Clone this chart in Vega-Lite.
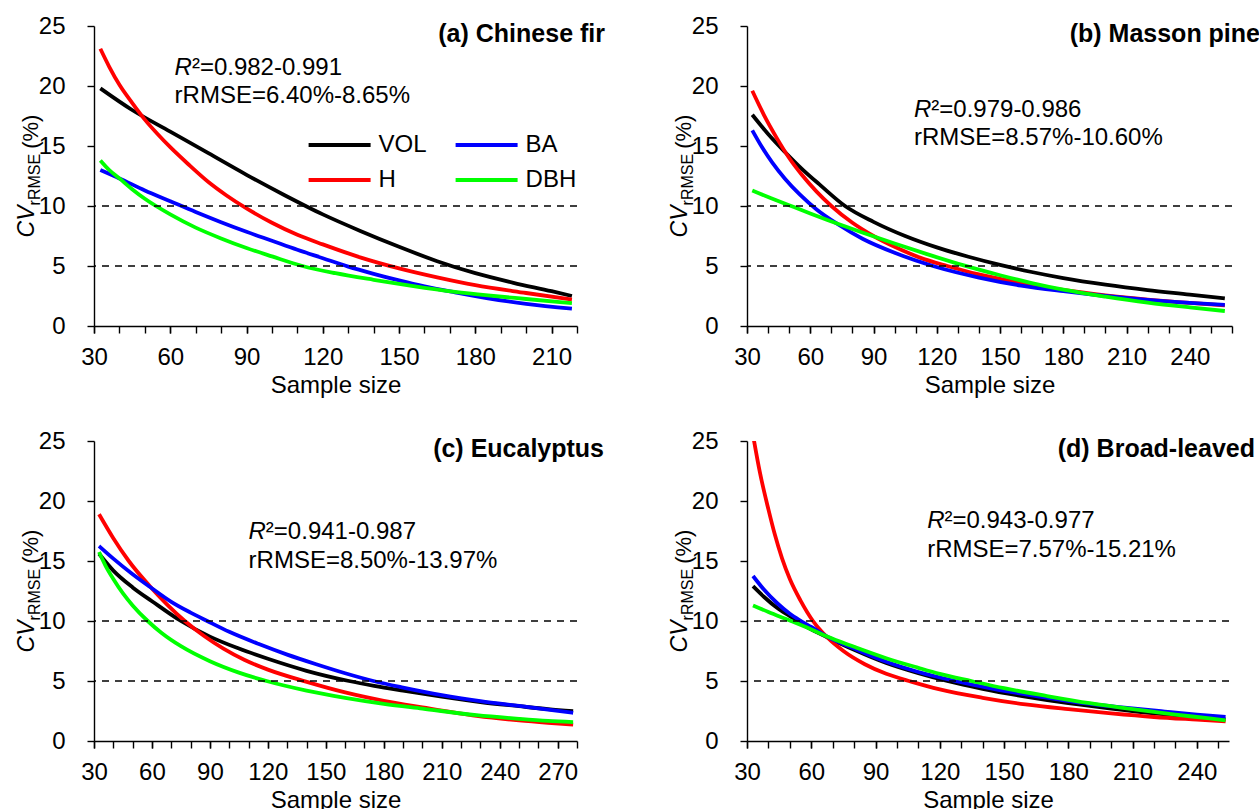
{
  "$schema": "https://vega.github.io/schema/vega-lite/v6.json",
  "background": "white",
  "padding": {"left": 16, "top": 14, "right": 0, "bottom": 0},
  "bounds": "flush",
  "columns": 2,
  "spacing": {"row": 115, "column": 170},
  "config": {
    "font": "Liberation Sans",
    "view": {"stroke": null},
    "axis": {"grid": false, "domainColor": "#000000", "tickColor": "#000000", "labelColor": "#000000", "titleColor": "#000000", "labelFontSize": 24, "titleFontSize": 24, "titleFontWeight": "normal", "domainWidth": 1.4, "tickWidth": 1.4, "tickSize": 7, "labelFlush": false, "labelOverlap": false, "labelBound": false},
    "axisX": {"labelPadding": 12, "titlePadding": 4},
    "axisY": {"labelPadding": 22},
    "text": {"color": "#000000"}
  },
  "resolve": {"scale": {"x": "independent", "y": "independent"}, "legend": {"color": "independent"}},
  "datasets": {
    "curves": [
      {"panel":"a","series":"VOL","n":32.5,"cv":19.8},{"panel":"a","series":"VOL","n":45,"cv":18.0},{"panel":"a","series":"VOL","n":60,"cv":16.2},{"panel":"a","series":"VOL","n":75,"cv":14.4},{"panel":"a","series":"VOL","n":90,"cv":12.6},{"panel":"a","series":"VOL","n":105,"cv":10.9},{"panel":"a","series":"VOL","n":120,"cv":9.3},{"panel":"a","series":"VOL","n":135,"cv":7.9},{"panel":"a","series":"VOL","n":150,"cv":6.6},{"panel":"a","series":"VOL","n":165,"cv":5.4},{"panel":"a","series":"VOL","n":180,"cv":4.4},{"panel":"a","series":"VOL","n":195,"cv":3.6},{"panel":"a","series":"VOL","n":210,"cv":2.9},{"panel":"a","series":"VOL","n":218,"cv":2.5},
      {"panel":"a","series":"H","n":32.5,"cv":23.1},{"panel":"a","series":"H","n":36,"cv":21.6},{"panel":"a","series":"H","n":40,"cv":20.1},{"panel":"a","series":"H","n":45,"cv":18.6},{"panel":"a","series":"H","n":50,"cv":17.2},{"panel":"a","series":"H","n":55,"cv":16.0},{"panel":"a","series":"H","n":60,"cv":14.9},{"panel":"a","series":"H","n":67,"cv":13.5},{"panel":"a","series":"H","n":75,"cv":12.0},{"panel":"a","series":"H","n":82,"cv":10.9},{"panel":"a","series":"H","n":90,"cv":9.8},{"panel":"a","series":"H","n":100,"cv":8.6},{"panel":"a","series":"H","n":110,"cv":7.6},{"panel":"a","series":"H","n":120,"cv":6.8},{"panel":"a","series":"H","n":135,"cv":5.7},{"panel":"a","series":"H","n":150,"cv":4.8},{"panel":"a","series":"H","n":165,"cv":4.05},{"panel":"a","series":"H","n":180,"cv":3.4},{"panel":"a","series":"H","n":200,"cv":2.75},{"panel":"a","series":"H","n":218,"cv":2.2},
      {"panel":"a","series":"BA","n":32.5,"cv":13.0},{"panel":"a","series":"BA","n":40,"cv":12.3},{"panel":"a","series":"BA","n":50,"cv":11.3},{"panel":"a","series":"BA","n":60,"cv":10.4},{"panel":"a","series":"BA","n":70,"cv":9.5},{"panel":"a","series":"BA","n":80,"cv":8.65},{"panel":"a","series":"BA","n":90,"cv":7.85},{"panel":"a","series":"BA","n":100,"cv":7.1},{"panel":"a","series":"BA","n":110,"cv":6.35},{"panel":"a","series":"BA","n":120,"cv":5.65},{"panel":"a","series":"BA","n":130,"cv":4.95},{"panel":"a","series":"BA","n":140,"cv":4.35},{"panel":"a","series":"BA","n":150,"cv":3.8},{"panel":"a","series":"BA","n":160,"cv":3.3},{"panel":"a","series":"BA","n":172,"cv":2.8},{"panel":"a","series":"BA","n":185,"cv":2.3},{"panel":"a","series":"BA","n":200,"cv":1.85},{"panel":"a","series":"BA","n":218,"cv":1.45},
      {"panel":"a","series":"DBH","n":32.5,"cv":13.8},{"panel":"a","series":"DBH","n":36,"cv":13.0},{"panel":"a","series":"DBH","n":40,"cv":12.3},{"panel":"a","series":"DBH","n":45,"cv":11.4},{"panel":"a","series":"DBH","n":50,"cv":10.6},{"panel":"a","series":"DBH","n":60,"cv":9.3},{"panel":"a","series":"DBH","n":70,"cv":8.2},{"panel":"a","series":"DBH","n":80,"cv":7.3},{"panel":"a","series":"DBH","n":90,"cv":6.5},{"panel":"a","series":"DBH","n":100,"cv":5.8},{"panel":"a","series":"DBH","n":112,"cv":5.0},{"panel":"a","series":"DBH","n":125,"cv":4.4},{"panel":"a","series":"DBH","n":140,"cv":3.85},{"panel":"a","series":"DBH","n":155,"cv":3.35},{"panel":"a","series":"DBH","n":172,"cv":2.85},{"panel":"a","series":"DBH","n":185,"cv":2.55},{"panel":"a","series":"DBH","n":200,"cv":2.25},{"panel":"a","series":"DBH","n":218,"cv":1.9},

      {"panel":"b","series":"VOL","n":32.5,"cv":17.6},{"panel":"b","series":"VOL","n":40,"cv":16.0},{"panel":"b","series":"VOL","n":48,"cv":14.5},{"panel":"b","series":"VOL","n":56,"cv":13.1},{"panel":"b","series":"VOL","n":65,"cv":11.7},{"panel":"b","series":"VOL","n":76.5,"cv":10.0},{"panel":"b","series":"VOL","n":90,"cv":8.68},{"panel":"b","series":"VOL","n":105,"cv":7.5},{"panel":"b","series":"VOL","n":120,"cv":6.55},{"panel":"b","series":"VOL","n":135,"cv":5.77},{"panel":"b","series":"VOL","n":150,"cv":5.09},{"panel":"b","series":"VOL","n":165,"cv":4.5},{"panel":"b","series":"VOL","n":180,"cv":3.99},{"panel":"b","series":"VOL","n":200,"cv":3.44},{"panel":"b","series":"VOL","n":220,"cv":2.99},{"panel":"b","series":"VOL","n":240,"cv":2.62},{"panel":"b","series":"VOL","n":256.6,"cv":2.3},
      {"panel":"b","series":"H","n":32.5,"cv":19.6},{"panel":"b","series":"H","n":38,"cv":17.6},{"panel":"b","series":"H","n":44,"cv":15.7},{"panel":"b","series":"H","n":50,"cv":14.0},{"panel":"b","series":"H","n":56,"cv":12.6},{"panel":"b","series":"H","n":63,"cv":11.2},{"panel":"b","series":"H","n":70,"cv":10.0},{"panel":"b","series":"H","n":80,"cv":8.6},{"panel":"b","series":"H","n":90,"cv":7.5},{"panel":"b","series":"H","n":100,"cv":6.6},{"panel":"b","series":"H","n":112,"cv":5.7},{"panel":"b","series":"H","n":125,"cv":5.0},{"panel":"b","series":"H","n":140,"cv":4.3},{"panel":"b","series":"H","n":160,"cv":3.6},{"panel":"b","series":"H","n":180,"cv":3.0},{"panel":"b","series":"H","n":200,"cv":2.55},{"panel":"b","series":"H","n":220,"cv":2.2},{"panel":"b","series":"H","n":240,"cv":1.92},{"panel":"b","series":"H","n":256.6,"cv":1.72},
      {"panel":"b","series":"BA","n":32.5,"cv":16.3},{"panel":"b","series":"BA","n":37,"cv":14.93},{"panel":"b","series":"BA","n":42,"cv":13.61},{"panel":"b","series":"BA","n":48,"cv":12.27},{"panel":"b","series":"BA","n":55,"cv":10.96},{"panel":"b","series":"BA","n":63,"cv":9.71},{"panel":"b","series":"BA","n":72.7,"cv":8.52},{"panel":"b","series":"BA","n":85,"cv":7.25},{"panel":"b","series":"BA","n":100,"cv":6.1},{"panel":"b","series":"BA","n":119,"cv":4.96},{"panel":"b","series":"BA","n":140,"cv":4.04},{"panel":"b","series":"BA","n":160,"cv":3.37},{"panel":"b","series":"BA","n":180,"cv":2.9},{"panel":"b","series":"BA","n":200,"cv":2.5},{"panel":"b","series":"BA","n":220,"cv":2.17},{"panel":"b","series":"BA","n":240,"cv":1.92},{"panel":"b","series":"BA","n":256.6,"cv":1.76},
      {"panel":"b","series":"DBH","n":32.5,"cv":11.3},{"panel":"b","series":"DBH","n":40,"cv":10.75},{"panel":"b","series":"DBH","n":50.9,"cv":10.0},{"panel":"b","series":"DBH","n":60,"cv":9.38},{"panel":"b","series":"DBH","n":72.7,"cv":8.54},{"panel":"b","series":"DBH","n":85,"cv":7.77},{"panel":"b","series":"DBH","n":100,"cv":6.87},{"panel":"b","series":"DBH","n":115,"cv":6.01},{"panel":"b","series":"DBH","n":132.4,"cv":5.07},{"panel":"b","series":"DBH","n":150,"cv":4.23},{"panel":"b","series":"DBH","n":165,"cv":3.58},{"panel":"b","series":"DBH","n":180,"cv":3.03},{"panel":"b","series":"DBH","n":200,"cv":2.45},{"panel":"b","series":"DBH","n":220,"cv":1.95},{"panel":"b","series":"DBH","n":240,"cv":1.55},{"panel":"b","series":"DBH","n":256.6,"cv":1.25},

      {"panel":"c","series":"VOL","n":32.6,"cv":15.6},{"panel":"c","series":"VOL","n":40,"cv":14.2},{"panel":"c","series":"VOL","n":50,"cv":12.8},{"panel":"c","series":"VOL","n":60,"cv":11.65},{"panel":"c","series":"VOL","n":75,"cv":10.0},{"panel":"c","series":"VOL","n":90,"cv":8.7},{"panel":"c","series":"VOL","n":105,"cv":7.7},{"panel":"c","series":"VOL","n":120,"cv":6.85},{"panel":"c","series":"VOL","n":140,"cv":5.85},{"panel":"c","series":"VOL","n":162,"cv":5.0},{"panel":"c","series":"VOL","n":175,"cv":4.6},{"panel":"c","series":"VOL","n":190,"cv":4.2},{"panel":"c","series":"VOL","n":210,"cv":3.7},{"panel":"c","series":"VOL","n":230,"cv":3.25},{"panel":"c","series":"VOL","n":250,"cv":2.9},{"panel":"c","series":"VOL","n":265,"cv":2.65},{"panel":"c","series":"VOL","n":278,"cv":2.48},
      {"panel":"c","series":"H","n":32.6,"cv":18.9},{"panel":"c","series":"H","n":40,"cv":16.9},{"panel":"c","series":"H","n":48,"cv":15.0},{"panel":"c","series":"H","n":58.9,"cv":12.9},{"panel":"c","series":"H","n":68,"cv":11.35},{"panel":"c","series":"H","n":77,"cv":10.0},{"panel":"c","series":"H","n":87,"cv":8.75},{"panel":"c","series":"H","n":97,"cv":7.7},{"panel":"c","series":"H","n":108,"cv":6.75},{"panel":"c","series":"H","n":120,"cv":5.95},{"panel":"c","series":"H","n":139.7,"cv":4.95},{"panel":"c","series":"H","n":160,"cv":4.05},{"panel":"c","series":"H","n":180,"cv":3.35},{"panel":"c","series":"H","n":200,"cv":2.8},{"panel":"c","series":"H","n":228,"cv":2.1},{"panel":"c","series":"H","n":250,"cv":1.72},{"panel":"c","series":"H","n":265,"cv":1.52},{"panel":"c","series":"H","n":278,"cv":1.37},
      {"panel":"c","series":"BA","n":32.6,"cv":16.25},{"panel":"c","series":"BA","n":40,"cv":15.2},{"panel":"c","series":"BA","n":50,"cv":13.9},{"panel":"c","series":"BA","n":58.9,"cv":12.85},{"panel":"c","series":"BA","n":70,"cv":11.6},{"panel":"c","series":"BA","n":80,"cv":10.7},{"panel":"c","series":"BA","n":88.6,"cv":10.0},{"panel":"c","series":"BA","n":100,"cv":9.1},{"panel":"c","series":"BA","n":115,"cv":8.1},{"panel":"c","series":"BA","n":130,"cv":7.2},{"panel":"c","series":"BA","n":145,"cv":6.4},{"panel":"c","series":"BA","n":160,"cv":5.65},{"panel":"c","series":"BA","n":174.6,"cv":5.0},{"panel":"c","series":"BA","n":190,"cv":4.45},{"panel":"c","series":"BA","n":210,"cv":3.82},{"panel":"c","series":"BA","n":230,"cv":3.32},{"panel":"c","series":"BA","n":250,"cv":2.92},{"panel":"c","series":"BA","n":265,"cv":2.62},{"panel":"c","series":"BA","n":278,"cv":2.35},
      {"panel":"c","series":"DBH","n":32.6,"cv":15.75},{"panel":"c","series":"DBH","n":36,"cv":14.6},{"panel":"c","series":"DBH","n":40,"cv":13.5},{"panel":"c","series":"DBH","n":45,"cv":12.3},{"panel":"c","series":"DBH","n":50,"cv":11.3},{"panel":"c","series":"DBH","n":57.8,"cv":10.0},{"panel":"c","series":"DBH","n":65,"cv":9.0},{"panel":"c","series":"DBH","n":75,"cv":7.9},{"panel":"c","series":"DBH","n":90,"cv":6.65},{"panel":"c","series":"DBH","n":105,"cv":5.7},{"panel":"c","series":"DBH","n":119.3,"cv":5.0},{"panel":"c","series":"DBH","n":140,"cv":4.2},{"panel":"c","series":"DBH","n":160,"cv":3.6},{"panel":"c","series":"DBH","n":180,"cv":3.1},{"panel":"c","series":"DBH","n":200,"cv":2.7},{"panel":"c","series":"DBH","n":228,"cv":2.15},{"panel":"c","series":"DBH","n":250,"cv":1.85},{"panel":"c","series":"DBH","n":265,"cv":1.68},{"panel":"c","series":"DBH","n":278,"cv":1.58},

      {"panel":"d","series":"VOL","n":32.8,"cv":12.9},{"panel":"d","series":"VOL","n":38,"cv":12.0},{"panel":"d","series":"VOL","n":44,"cv":11.1},{"panel":"d","series":"VOL","n":50,"cv":10.4},{"panel":"d","series":"VOL","n":54,"cv":9.95},{"panel":"d","series":"VOL","n":60,"cv":9.3},{"panel":"d","series":"VOL","n":67.4,"cv":8.65},{"panel":"d","series":"VOL","n":80,"cv":7.6},{"panel":"d","series":"VOL","n":95,"cv":6.5},{"panel":"d","series":"VOL","n":110,"cv":5.65},{"panel":"d","series":"VOL","n":123.5,"cv":5.0},{"panel":"d","series":"VOL","n":140,"cv":4.35},{"panel":"d","series":"VOL","n":160,"cv":3.7},{"panel":"d","series":"VOL","n":180,"cv":3.15},{"panel":"d","series":"VOL","n":200,"cv":2.7},{"panel":"d","series":"VOL","n":220,"cv":2.3},{"panel":"d","series":"VOL","n":240,"cv":2.0},{"panel":"d","series":"VOL","n":253.4,"cv":1.8},
      {"panel":"d","series":"H","n":32.8,"cv":25.5},{"panel":"d","series":"H","n":36,"cv":22.4},{"panel":"d","series":"H","n":40,"cv":19.3},{"panel":"d","series":"H","n":43,"cv":17.2},{"panel":"d","series":"H","n":46.4,"cv":15.2},{"panel":"d","series":"H","n":50,"cv":13.5},{"panel":"d","series":"H","n":55,"cv":11.7},{"panel":"d","series":"H","n":60.8,"cv":10.0},{"panel":"d","series":"H","n":67.4,"cv":8.65},{"panel":"d","series":"H","n":75,"cv":7.5},{"panel":"d","series":"H","n":85,"cv":6.4},{"panel":"d","series":"H","n":95,"cv":5.6},{"panel":"d","series":"H","n":106.6,"cv":4.95},{"panel":"d","series":"H","n":120,"cv":4.3},{"panel":"d","series":"H","n":140,"cv":3.6},{"panel":"d","series":"H","n":160,"cv":3.05},{"panel":"d","series":"H","n":180,"cv":2.65},{"panel":"d","series":"H","n":200,"cv":2.3},{"panel":"d","series":"H","n":220,"cv":2.0},{"panel":"d","series":"H","n":240,"cv":1.78},{"panel":"d","series":"H","n":253.4,"cv":1.64},
      {"panel":"d","series":"BA","n":32.8,"cv":13.75},{"panel":"d","series":"BA","n":38,"cv":12.6},{"panel":"d","series":"BA","n":44,"cv":11.5},{"panel":"d","series":"BA","n":50,"cv":10.6},{"panel":"d","series":"BA","n":55.2,"cv":10.0},{"panel":"d","series":"BA","n":60,"cv":9.5},{"panel":"d","series":"BA","n":67.4,"cv":8.7},{"panel":"d","series":"BA","n":80,"cv":7.7},{"panel":"d","series":"BA","n":95,"cv":6.6},{"panel":"d","series":"BA","n":110,"cv":5.75},{"panel":"d","series":"BA","n":127.2,"cv":5.0},{"panel":"d","series":"BA","n":145,"cv":4.35},{"panel":"d","series":"BA","n":165,"cv":3.75},{"panel":"d","series":"BA","n":185,"cv":3.2},{"panel":"d","series":"BA","n":205,"cv":2.8},{"panel":"d","series":"BA","n":225,"cv":2.45},{"panel":"d","series":"BA","n":240,"cv":2.2},{"panel":"d","series":"BA","n":253.4,"cv":2.0},
      {"panel":"d","series":"DBH","n":32.8,"cv":11.3},{"panel":"d","series":"DBH","n":40,"cv":10.75},{"panel":"d","series":"DBH","n":50.6,"cv":10.0},{"panel":"d","series":"DBH","n":60,"cv":9.3},{"panel":"d","series":"DBH","n":67.4,"cv":8.7},{"panel":"d","series":"DBH","n":80,"cv":7.85},{"panel":"d","series":"DBH","n":95,"cv":6.9},{"panel":"d","series":"DBH","n":110,"cv":6.1},{"panel":"d","series":"DBH","n":120,"cv":5.6},{"panel":"d","series":"DBH","n":134.7,"cv":5.0},{"panel":"d","series":"DBH","n":150,"cv":4.4},{"panel":"d","series":"DBH","n":170,"cv":3.75},{"panel":"d","series":"DBH","n":190,"cv":3.15},{"panel":"d","series":"DBH","n":210,"cv":2.65},{"panel":"d","series":"DBH","n":230,"cv":2.2},{"panel":"d","series":"DBH","n":245,"cv":1.9},{"panel":"d","series":"DBH","n":253.4,"cv":1.72}
    ]
  },
  "concat": [
    {
      "width": 483, "height": 300,
      "resolve": {"axis": {"x": "independent"}},
      "layer": [
        {"data": {"name": "curves"}, "transform": [{"filter": "datum.panel === 'a'"}],
         "mark": {"type": "line", "strokeWidth": 3.8, "interpolate": "monotone", "clip": true},
         "encoding": {
           "x": {"field": "n", "type": "quantitative", "scale": {"domain": [30, 220], "nice": false, "zero": false}, "axis": {"orient": "bottom", "values": [30, 60, 90, 120, 150, 180, 210], "labelOverlap": false, "labelSeparation": -500, "labelDx": 6, "title": "Sample size"}},
           "y": {"field": "cv", "type": "quantitative", "scale": {"domain": [0, 25], "nice": false}, "axis": {"values": [0, 5, 10, 15, 20, 25], "labelOverlap": false, "title": null}},
           "color": {"field": "series", "type": "nominal", "scale": {"domain": ["VOL", "BA", "H", "DBH"], "range": ["#000000", "#0000ff", "#ff0000", "#00ff00"]},
             "legend": {"orient": "none", "legendX": 212.6, "legendY": 107, "title": null, "columns": 2, "direction": "horizontal", "symbolType": "stroke", "symbolSize": 3844, "symbolStrokeWidth": 4, "clipHeight": 24, "rowPadding": 11, "columnPadding": 26, "labelFontSize": 24, "labelColor": "#000000", "labelOffset": 6, "padding": 0, "offset": 0}}
         }},
        {"data": {"values": [{"threshold": 5}, {"threshold": 10}]}, "mark": {"type": "rule", "strokeDash": [7, 6], "strokeWidth": 1.4, "color": "#000000"}, "encoding": {"y": {"field": "threshold", "type": "quantitative", "title": null}}},
        {"data": {"values": [{}]}, "mark": {"type": "text", "text": "(a) Chinese fir", "align": "right", "baseline": "alphabetic", "fontSize": 25, "fontWeight": "bold", "dx": 28}, "encoding": {"x": {"datum": 220, "type": "quantitative", "axis": null}, "y": {"datum": 23.64, "type": "quantitative"}}},
        {"data": {"values": [{}]}, "mark": {"type": "text", "text": "R", "align": "left", "baseline": "alphabetic", "fontSize": 24, "fontStyle": "italic"}, "encoding": {"x": {"datum": 61.7, "type": "quantitative", "axis": null}, "y": {"datum": 20.95, "type": "quantitative"}}},
        {"data": {"values": [{}]}, "mark": {"type": "text", "text": "²=0.982-0.991", "align": "left", "baseline": "alphabetic", "fontSize": 24, "dx": 17.3}, "encoding": {"x": {"datum": 61.7, "type": "quantitative", "axis": null}, "y": {"datum": 20.95, "type": "quantitative"}}},
        {"data": {"values": [{}]}, "mark": {"type": "text", "text": "rRMSE=6.40%-8.65%", "align": "left", "baseline": "alphabetic", "fontSize": 24}, "encoding": {"x": {"datum": 61.7, "type": "quantitative", "axis": null}, "y": {"datum": 18.55, "type": "quantitative"}}},
        {"data": {"values": [{}]}, "mark": {"type": "text", "text": "CV", "angle": 270, "align": "left", "baseline": "alphabetic", "fontSize": 23, "fontStyle": "italic", "dx": -61.4, "dy": -60}, "encoding": {"x": {"datum": 30, "type": "quantitative", "axis": {"orient": "bottom", "values": [30,40,50,60,70,80,90,100,110,120,130,140,150,160,170,180,190,200,210,220], "labels": false, "domain": false, "title": null}}, "y": {"datum": 12.5, "type": "quantitative"}}},
        {"data": {"values": [{}]}, "mark": {"type": "text", "text": "rRMSE", "angle": 270, "align": "left", "baseline": "alphabetic", "fontSize": 16, "dx": -29.4, "dy": -54}, "encoding": {"x": {"datum": 30, "type": "quantitative", "axis": null}, "y": {"datum": 12.5, "type": "quantitative"}}},
        {"data": {"values": [{}]}, "mark": {"type": "text", "text": "(%)", "angle": 270, "align": "left", "baseline": "alphabetic", "fontSize": 22, "dx": 27.2, "dy": -56}, "encoding": {"x": {"datum": 30, "type": "quantitative", "axis": null}, "y": {"datum": 12.5, "type": "quantitative"}}}
      ]
    },
    {
      "width": 485, "height": 300,
      "resolve": {"axis": {"x": "independent"}},
      "layer": [
        {"data": {"name": "curves"}, "transform": [{"filter": "datum.panel === 'b'"}],
         "mark": {"type": "line", "strokeWidth": 3.8, "interpolate": "monotone", "clip": true},
         "encoding": {
           "x": {"field": "n", "type": "quantitative", "scale": {"domain": [30, 260], "nice": false, "zero": false}, "axis": {"orient": "bottom", "values": [30, 60, 90, 120, 150, 180, 210, 240], "labelOverlap": false, "labelSeparation": -500, "labelDx": 2, "title": "Sample size"}},
           "y": {"field": "cv", "type": "quantitative", "scale": {"domain": [0, 25], "nice": false}, "axis": {"values": [0, 5, 10, 15, 20, 25], "labelOverlap": false, "title": null}},
           "color": {"field": "series", "type": "nominal", "scale": {"domain": ["VOL", "BA", "H", "DBH"], "range": ["#000000", "#0000ff", "#ff0000", "#00ff00"]}, "legend": null}
         }},
        {"data": {"values": [{"threshold": 5}, {"threshold": 10}]}, "mark": {"type": "rule", "strokeDash": [7, 6], "strokeWidth": 1.4, "color": "#000000"}, "encoding": {"y": {"field": "threshold", "type": "quantitative", "title": null}}},
        {"data": {"values": [{}]}, "mark": {"type": "text", "text": "(b) Masson pine", "align": "right", "baseline": "alphabetic", "fontSize": 25, "fontWeight": "bold", "dx": 28}, "encoding": {"x": {"datum": 260, "type": "quantitative", "axis": null}, "y": {"datum": 23.64, "type": "quantitative"}}},
        {"data": {"values": [{}]}, "mark": {"type": "text", "text": "R", "align": "left", "baseline": "alphabetic", "fontSize": 24, "fontStyle": "italic"}, "encoding": {"x": {"datum": 109.2, "type": "quantitative", "axis": null}, "y": {"datum": 17.42, "type": "quantitative"}}},
        {"data": {"values": [{}]}, "mark": {"type": "text", "text": "²=0.979-0.986", "align": "left", "baseline": "alphabetic", "fontSize": 24, "dx": 17.3}, "encoding": {"x": {"datum": 109.2, "type": "quantitative", "axis": null}, "y": {"datum": 17.42, "type": "quantitative"}}},
        {"data": {"values": [{}]}, "mark": {"type": "text", "text": "rRMSE=8.57%-10.60%", "align": "left", "baseline": "alphabetic", "fontSize": 24}, "encoding": {"x": {"datum": 109.2, "type": "quantitative", "axis": null}, "y": {"datum": 15.06, "type": "quantitative"}}},
        {"data": {"values": [{}]}, "mark": {"type": "text", "text": "CV", "angle": 270, "align": "left", "baseline": "alphabetic", "fontSize": 23, "fontStyle": "italic", "dx": -61.4, "dy": -60}, "encoding": {"x": {"datum": 30, "type": "quantitative", "axis": {"orient": "bottom", "values": [30,40,50,60,70,80,90,100,110,120,130,140,150,160,170,180,190,200,210,220,230,240,250,260], "labels": false, "domain": false, "title": null}}, "y": {"datum": 12.5, "type": "quantitative"}}},
        {"data": {"values": [{}]}, "mark": {"type": "text", "text": "rRMSE", "angle": 270, "align": "left", "baseline": "alphabetic", "fontSize": 16, "dx": -29.4, "dy": -54}, "encoding": {"x": {"datum": 30, "type": "quantitative", "axis": null}, "y": {"datum": 12.5, "type": "quantitative"}}},
        {"data": {"values": [{}]}, "mark": {"type": "text", "text": "(%)", "angle": 270, "align": "left", "baseline": "alphabetic", "fontSize": 22, "dx": 27.2, "dy": -56}, "encoding": {"x": {"datum": 30, "type": "quantitative", "axis": null}, "y": {"datum": 12.5, "type": "quantitative"}}}
      ]
    },
    {
      "width": 483, "height": 300,
      "resolve": {"axis": {"x": "independent"}},
      "layer": [
        {"data": {"name": "curves"}, "transform": [{"filter": "datum.panel === 'c'"}],
         "mark": {"type": "line", "strokeWidth": 3.8, "interpolate": "monotone", "clip": true},
         "encoding": {
           "x": {"field": "n", "type": "quantitative", "scale": {"domain": [30, 280], "nice": false, "zero": false}, "axis": {"orient": "bottom", "values": [30, 60, 90, 120, 150, 180, 210, 240, 270], "labelOverlap": false, "labelSeparation": -500, "labelDx": 4.5, "title": "Sample size"}},
           "y": {"field": "cv", "type": "quantitative", "scale": {"domain": [0, 25], "nice": false}, "axis": {"values": [0, 5, 10, 15, 20, 25], "labelOverlap": false, "title": null}},
           "color": {"field": "series", "type": "nominal", "scale": {"domain": ["VOL", "BA", "H", "DBH"], "range": ["#000000", "#0000ff", "#ff0000", "#00ff00"]}, "legend": null}
         }},
        {"data": {"values": [{"threshold": 5}, {"threshold": 10}]}, "mark": {"type": "rule", "strokeDash": [7, 6], "strokeWidth": 1.4, "color": "#000000"}, "encoding": {"y": {"field": "threshold", "type": "quantitative", "title": null}}},
        {"data": {"values": [{}]}, "mark": {"type": "text", "text": "(c) Eucalyptus", "align": "right", "baseline": "alphabetic", "fontSize": 25, "fontWeight": "bold", "dx": 27}, "encoding": {"x": {"datum": 280, "type": "quantitative", "axis": null}, "y": {"datum": 23.64, "type": "quantitative"}}},
        {"data": {"values": [{}]}, "mark": {"type": "text", "text": "R", "align": "left", "baseline": "alphabetic", "fontSize": 24, "fontStyle": "italic"}, "encoding": {"x": {"datum": 110, "type": "quantitative", "axis": null}, "y": {"datum": 16.8, "type": "quantitative"}}},
        {"data": {"values": [{}]}, "mark": {"type": "text", "text": "²=0.941-0.987", "align": "left", "baseline": "alphabetic", "fontSize": 24, "dx": 17.3}, "encoding": {"x": {"datum": 110, "type": "quantitative", "axis": null}, "y": {"datum": 16.8, "type": "quantitative"}}},
        {"data": {"values": [{}]}, "mark": {"type": "text", "text": "rRMSE=8.50%-13.97%", "align": "left", "baseline": "alphabetic", "fontSize": 24}, "encoding": {"x": {"datum": 110, "type": "quantitative", "axis": null}, "y": {"datum": 14.42, "type": "quantitative"}}},
        {"data": {"values": [{}]}, "mark": {"type": "text", "text": "CV", "angle": 270, "align": "left", "baseline": "alphabetic", "fontSize": 23, "fontStyle": "italic", "dx": -61.4, "dy": -60}, "encoding": {"x": {"datum": 30, "type": "quantitative", "axis": {"orient": "bottom", "values": [30,40,50,60,70,80,90,100,110,120,130,140,150,160,170,180,190,200,210,220,230,240,250,260,270,280], "labels": false, "domain": false, "title": null}}, "y": {"datum": 12.5, "type": "quantitative"}}},
        {"data": {"values": [{}]}, "mark": {"type": "text", "text": "rRMSE", "angle": 270, "align": "left", "baseline": "alphabetic", "fontSize": 16, "dx": -29.4, "dy": -54}, "encoding": {"x": {"datum": 30, "type": "quantitative", "axis": null}, "y": {"datum": 12.5, "type": "quantitative"}}},
        {"data": {"values": [{}]}, "mark": {"type": "text", "text": "(%)", "angle": 270, "align": "left", "baseline": "alphabetic", "fontSize": 22, "dx": 27.2, "dy": -56}, "encoding": {"x": {"datum": 30, "type": "quantitative", "axis": null}, "y": {"datum": 12.5, "type": "quantitative"}}}
      ]
    },
    {
      "width": 482, "height": 300,
      "resolve": {"axis": {"x": "independent"}},
      "layer": [
        {"data": {"name": "curves"}, "transform": [{"filter": "datum.panel === 'd'"}],
         "mark": {"type": "line", "strokeWidth": 3.8, "interpolate": "monotone", "clip": true},
         "encoding": {
           "x": {"field": "n", "type": "quantitative", "scale": {"domain": [30, 255], "nice": false, "zero": false}, "axis": {"orient": "bottom", "values": [30, 60, 90, 120, 150, 180, 210, 240], "labelOverlap": false, "labelSeparation": -500, "labelDx": 5.5, "title": "Sample size"}},
           "y": {"field": "cv", "type": "quantitative", "scale": {"domain": [0, 25], "nice": false}, "axis": {"values": [0, 5, 10, 15, 20, 25], "labelOverlap": false, "title": null}},
           "color": {"field": "series", "type": "nominal", "scale": {"domain": ["VOL", "BA", "H", "DBH"], "range": ["#000000", "#0000ff", "#ff0000", "#00ff00"]}, "legend": null}
         }},
        {"data": {"values": [{"threshold": 5}, {"threshold": 10}]}, "mark": {"type": "rule", "strokeDash": [7, 6], "strokeWidth": 1.4, "color": "#000000"}, "encoding": {"y": {"field": "threshold", "type": "quantitative", "title": null}}},
        {"data": {"values": [{}]}, "mark": {"type": "text", "text": "(d) Broad-leaved", "align": "right", "baseline": "alphabetic", "fontSize": 25, "fontWeight": "bold", "dx": 26}, "encoding": {"x": {"datum": 255, "type": "quantitative", "axis": null}, "y": {"datum": 23.64, "type": "quantitative"}}},
        {"data": {"values": [{}]}, "mark": {"type": "text", "text": "R", "align": "left", "baseline": "alphabetic", "fontSize": 24, "fontStyle": "italic"}, "encoding": {"x": {"datum": 114.1, "type": "quantitative", "axis": null}, "y": {"datum": 17.75, "type": "quantitative"}}},
        {"data": {"values": [{}]}, "mark": {"type": "text", "text": "²=0.943-0.977", "align": "left", "baseline": "alphabetic", "fontSize": 24, "dx": 17.3}, "encoding": {"x": {"datum": 114.1, "type": "quantitative", "axis": null}, "y": {"datum": 17.75, "type": "quantitative"}}},
        {"data": {"values": [{}]}, "mark": {"type": "text", "text": "rRMSE=7.57%-15.21%", "align": "left", "baseline": "alphabetic", "fontSize": 24}, "encoding": {"x": {"datum": 114.1, "type": "quantitative", "axis": null}, "y": {"datum": 15.33, "type": "quantitative"}}},
        {"data": {"values": [{}]}, "mark": {"type": "text", "text": "CV", "angle": 270, "align": "left", "baseline": "alphabetic", "fontSize": 23, "fontStyle": "italic", "dx": -61.4, "dy": -60}, "encoding": {"x": {"datum": 30, "type": "quantitative", "axis": {"orient": "bottom", "values": [30,40,50,60,70,80,90,100,110,120,130,140,150,160,170,180,190,200,210,220,230,240,250], "labels": false, "domain": false, "title": null}}, "y": {"datum": 12.5, "type": "quantitative"}}},
        {"data": {"values": [{}]}, "mark": {"type": "text", "text": "rRMSE", "angle": 270, "align": "left", "baseline": "alphabetic", "fontSize": 16, "dx": -29.4, "dy": -54}, "encoding": {"x": {"datum": 30, "type": "quantitative", "axis": null}, "y": {"datum": 12.5, "type": "quantitative"}}},
        {"data": {"values": [{}]}, "mark": {"type": "text", "text": "(%)", "angle": 270, "align": "left", "baseline": "alphabetic", "fontSize": 22, "dx": 27.2, "dy": -56}, "encoding": {"x": {"datum": 30, "type": "quantitative", "axis": null}, "y": {"datum": 12.5, "type": "quantitative"}}}
      ]
    }
  ]
}
